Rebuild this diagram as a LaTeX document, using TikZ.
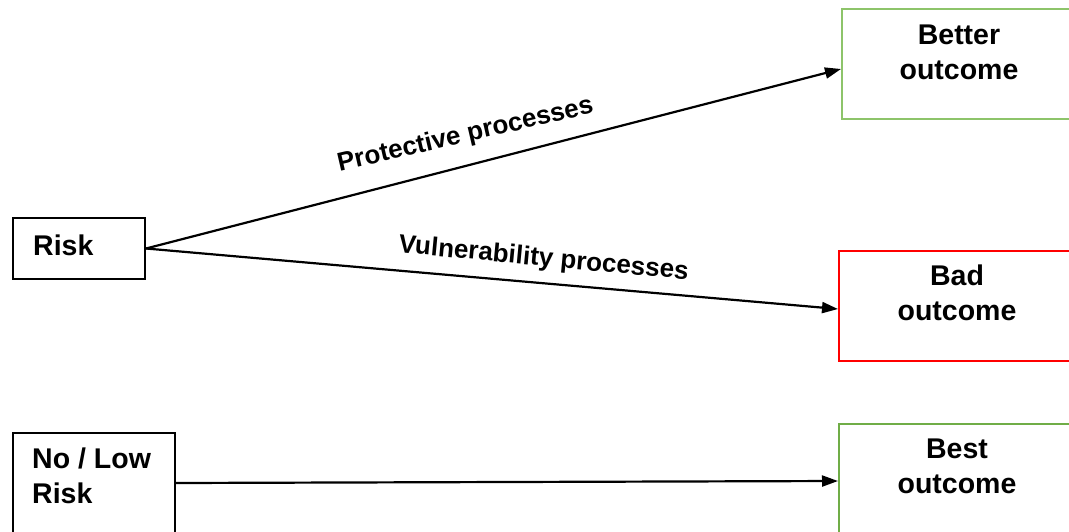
\documentclass[tikz,border=0pt]{standalone}
\usepackage{fontspec}
\setmainfont{Liberation Sans}
\usetikzlibrary{arrows.meta}
\definecolor{lightgreen}{RGB}{141,196,106}
\definecolor{darkgreen}{RGB}{112,173,71}
\definecolor{pureRed}{RGB}{255,0,0}
\tikzset{
  box/.style={draw, line width=2pt, rectangle, inner sep=0pt, anchor=north west},
  boxtext/.style={inner sep=0pt, font=\bfseries\fontsize{28.5}{35}\selectfont},
  lbl/.style={inner sep=0pt, anchor=base, font=\bfseries\fontsize{26}{30}\selectfont},
  conn/.style={line width=2.2pt, -{Triangle[length=16pt,width=11pt]}}
}
\begin{document}
\begin{tikzpicture}[x=1pt,y=-1pt]
\useasboundingbox (0,0) rectangle (1069,531);
\clip (0,0) rectangle (1069,531);
% boxes
\node[box, minimum width=132pt, minimum height=61pt] (risk) at (12,217) {};
\node[box, minimum width=162pt, minimum height=100pt] (nolow) at (12,432) {};
\node[box, draw=lightgreen, minimum width=260pt, minimum height=110pt] (better) at (841,8) {};
\node[box, draw=pureRed, minimum width=260pt, minimum height=110pt] (bad) at (838,250) {};
\node[box, draw=darkgreen, minimum width=260pt, minimum height=114pt] (best) at (838,423) {};
% box texts
\node[boxtext, anchor=base west] (risktxt) at (33,255) {Risk};
\node[boxtext, anchor=north west, align=left] (nolowtxt) at (32,448) {No / Low\\Risk};
\node[boxtext, anchor=north, align=center] (bettertxt) at (959,25) {Better\\outcome};
\node[boxtext, anchor=north, align=center] (badtxt) at (957,265) {Bad\\outcome};
\node[boxtext, anchor=north, align=center] (besttxt) at (957,439) {Best\\outcome};
% connectors
\draw[conn] (risk.east) -- ([yshift=-5pt]better.west);
\draw[conn] (risk.east) -- ([yshift=-3pt]bad.west);
\draw[conn] (nolow.east) -- (best.west);
% labels
\node[lbl, rotate=13] (prot) at (467,142) {Protective processes};
\node[lbl, rotate=-5.4] (vuln) at (543,266) {Vulnerability processes};
\end{tikzpicture}
\end{document}
